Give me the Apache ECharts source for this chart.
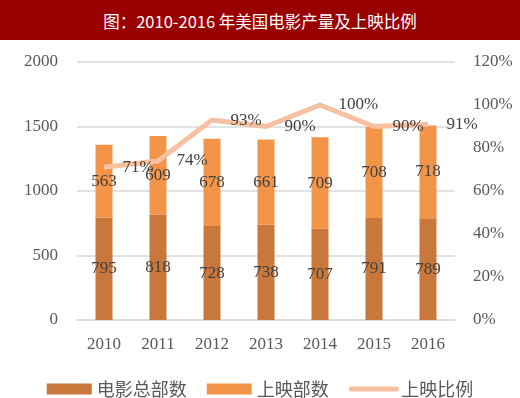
<!DOCTYPE html>
<html>
<head>
<meta charset="utf-8">
<script src="https://cdn.jsdelivr.net/npm/echarts@6/dist/echarts.min.js"></script>
<style>
  html, body { margin: 0; padding: 0; background: #fff; }
  #title {
    height: 40px; line-height: 42px; background: #990000; color: #fff;
    text-align: center; font-family: "Noto Sans CJK SC"; font-size: 16.5px;
  }
  #chart { width: 520px; height: 358px; }
</style>
</head>
<body>
<div id="title">图：2010-2016 年美国电影产量及上映比例</div>
<div id="chart"></div>
<script>
const years = ['2010', '2011', '2012', '2013', '2014', '2015', '2016']
const totalFilms = [795, 818, 728, 738, 707, 791, 789]
const releasedFilms = [563, 609, 678, 661, 709, 708, 718]
const releaseRatio = [71, 74, 93, 90, 100, 90, 91]

const numFont = 'Liberation Serif'
const textColor = '#595959'

const chart = echarts.init(document.getElementById('chart'))

chart.setOption({
  animation: false,
  grid: { top: 22, left: 77, right: 65, bottom: 78 },
  legend: {
    top: 335,
    left: 'center',
    itemWidth: 45,
    itemHeight: 11,
    itemGap: 20,
    textStyle: { fontFamily: 'Noto Sans CJK SC', fontSize: 18, color: textColor },
    data: [
      { name: '电影总部数', icon: 'rect' },
      { name: '上映部数', icon: 'rect' },
      { name: '上映比例', itemStyle: { opacity: 0 }, lineStyle: { width: 5, cap: 'round' } }
    ]
  },
  xAxis: {
    type: 'category',
    data: years,
    axisTick: { show: false },
    axisLine: { lineStyle: { color: '#d9d9d9', width: 1.5 } },
    axisLabel: { fontFamily: numFont, fontSize: 17, color: textColor, margin: 16 }
  },
  yAxis: [{
    type: 'value',
    min: 0,
    max: 2000,
    interval: 500,
    axisLine: { show: false },
    axisTick: { show: false },
    axisLabel: { fontFamily: numFont, fontSize: 17, color: textColor, margin: 19, formatter: v => String(v) },
    splitLine: { lineStyle: { color: '#d9d9d9', width: 1.5 } }
  }, {
    type: 'value',
    min: 0,
    max: 120,
    interval: 20,
    axisLine: { show: false },
    axisTick: { show: false },
    splitLine: { show: false },
    axisLabel: { fontFamily: numFont, fontSize: 17, color: textColor, margin: 18, formatter: '{value}%' }
  }],
  series: [{
    name: '电影总部数',
    type: 'bar',
    stack: 'films',
    barWidth: 17,
    itemStyle: { color: '#c8783a' },
    label: { show: true, position: 'inside', fontFamily: numFont, fontSize: 17, color: '#404040' },
    data: totalFilms
  }, {
    name: '上映部数',
    type: 'bar',
    stack: 'films',
    barWidth: 17,
    itemStyle: { color: '#f39548' },
    label: { show: true, position: 'inside', fontFamily: numFont, fontSize: 17, color: '#404040' },
    data: releasedFilms
  }, {
    name: '上映比例',
    type: 'line',
    yAxisIndex: 1,
    symbol: 'circle',
    symbolSize: 1,
    showSymbol: true,
    lineStyle: { color: '#f7c1a1', width: 5 },
    itemStyle: { color: '#f7c1a1' },
    labelLayout: { hideOverlap: false },
    label: {
      show: true,
      position: 'right',
      distance: 18,
      fontFamily: numFont,
      fontSize: 17,
      color: '#404040',
      formatter: '{c}%'
    },
    data: releaseRatio
  }]
})
</script>
</body>
</html>
